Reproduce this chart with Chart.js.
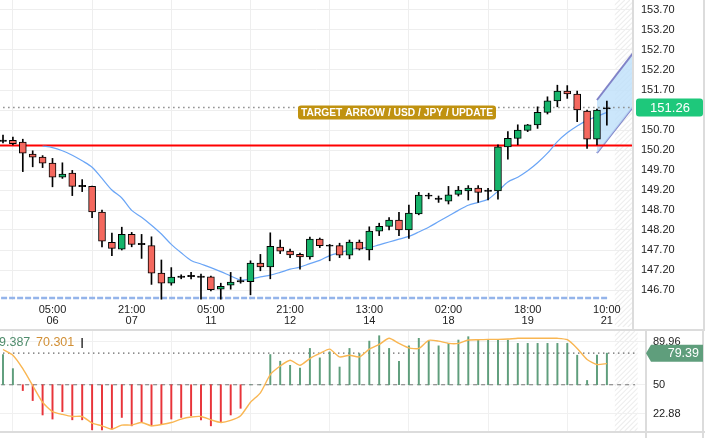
<!DOCTYPE html>
<html><head><meta charset="utf-8">
<script src="https://cdn.jsdelivr.net/npm/chart.js@4/dist/chart.umd.min.js"></script>
<style>
html,body{margin:0;padding:0;background:#fff;}
body{width:723px;height:438px;overflow:hidden;position:relative;}
#c1{position:absolute;left:0;top:0;}
#c2{position:absolute;left:0;top:329px;}
</style></head>
<body>
<canvas id="c1" width="723" height="329"></canvas>
<canvas id="c2" width="723" height="109"></canvas>
<script>
// ---------- DATA ----------
const xTickIndex = [5, 13, 21, 29, 37, 45, 53, 61];
const xTickTime  = ['05:00','21:00','05:00','21:00','13:00','02:00','18:00','10:00'];
const xTickDay   = ['06','07','11','12','14','18','19','21'];

const opens = [150.43,150.44,150.40,150.10,150.02,149.87,149.52,149.62,149.30,149.29,
  148.65,147.89,147.72,148.09,147.85,147.81,147.12,146.87,147.03,147.05,
  147.03,147.03,146.72,146.82,146.92,146.91,147.37,147.28,147.77,147.67,
  147.59,147.53,147.97,147.81,147.81,147.57,147.90,147.70,148.17,148.29,
  148.45,148.20,148.60,149.06,148.98,148.92,149.09,149.18,149.25,149.18,
  149.18,150.28,150.49,150.69,150.83,151.14,151.43,151.67,151.60,151.17,
  150.47,151.24];
const highs = [150.57,150.52,150.47,150.18,150.06,149.99,149.88,149.69,149.46,149.30,
  148.70,148.12,148.27,148.14,148.09,148.03,147.45,147.26,147.08,147.14,
  147.10,147.05,146.87,147.14,147.02,147.43,147.59,148.13,147.95,147.72,
  147.62,148.02,148.00,147.84,147.87,147.95,147.95,148.28,148.37,148.51,
  148.64,148.82,149.14,149.12,149.05,149.29,149.29,149.31,149.31,149.24,
  150.33,150.66,150.83,150.84,151.28,151.53,151.82,151.81,151.67,151.20,
  151.22,151.42];
const lows = [150.38,150.33,149.66,149.78,149.76,149.28,149.49,149.06,149.16,148.51,
  147.78,147.56,147.70,147.78,147.49,146.84,146.47,146.82,146.98,146.98,
  146.47,146.68,146.47,146.72,146.87,146.58,147.18,146.98,147.61,147.51,
  147.22,147.47,147.76,147.43,147.51,147.48,147.70,147.45,148.06,148.20,
  148.06,147.99,148.58,148.98,148.89,148.85,149.05,148.95,148.89,148.95,
  148.97,149.97,150.33,150.66,150.74,151.10,151.28,151.49,150.91,150.24,
  150.33,150.82];
const closes = [150.43,150.36,150.12,150.02,149.87,149.52,149.60,149.29,149.30,148.65,
  147.92,147.74,148.09,147.84,147.85,147.12,146.87,147.02,147.03,147.05,
  147.03,146.71,146.79,146.90,146.92,147.37,147.28,147.79,147.67,147.58,
  147.53,147.97,147.81,147.81,147.57,147.90,147.72,148.17,148.29,148.45,
  148.20,148.62,149.07,149.06,148.98,149.08,149.20,149.25,149.14,149.18,
  150.28,150.49,150.70,150.83,151.14,151.43,151.67,151.60,151.20,150.47,
  151.20,151.24];
const movingAvg = [null,null,null,null,150.30,150.26,150.18,150.07,149.93,149.77,
  149.49,149.20,149.00,148.69,148.52,148.32,148.10,147.84,147.63,147.44,
  147.35,147.26,147.16,147.05,146.95,146.97,147.03,147.07,147.14,147.22,
  147.27,147.36,147.44,147.56,147.63,147.70,147.75,147.76,147.83,147.90,
  147.97,148.04,148.15,148.27,148.41,148.55,148.69,148.82,148.89,148.97,
  149.17,149.40,149.52,149.68,149.88,150.12,150.41,150.63,150.80,150.94,
  151.04,151.14];
const priceTicks = [146.70,147.20,147.70,148.20,148.70,149.20,149.70,150.20,150.70,151.20,151.70,152.20,152.70,153.20,153.70];
const supportLevel = 150.31;
const lowLevel = 146.50;
const lastPrice = 151.26;
const targetText = 'TARGET ARROW / USD / JPY / UPDATE';
const channelX = [60, 64];
const channelUpper = [151.45, 152.74];
const channelLower = [150.125, 151.39];

const oscHist = [78.1,65.0,44.6,35.3,21.9,18.1,25.0,17.4,17.4,8.1,
  8.1,8.7,19.6,11.8,14.9,11.8,13.4,18.1,19.6,21.2,
  17.2,11.8,14.9,21.9,28.1,50,50,78.1,71.9,68.1,
  65.6,83.8,75.0,80.6,66.5,83.8,79.0,90.6,95.6,83.8,
  71.9,86.2,93.2,90.6,86.2,88.5,91.6,94.7,91.6,91.6,
  91.6,91.6,88.5,88.5,88.5,88.5,88.5,88.5,77.5,54.0,
  77.5,79.39];
const oscSignal = [82.8,77.5,65.0,49.3,33.7,25.0,22.4,20.5,20.5,14.4,
  11.8,8.7,12.5,12.5,14.9,11.8,13.0,14.9,18.1,20.0,
  20.5,17.4,14.9,16.8,21.2,33.7,42.5,59.4,67.4,72.8,
  68.1,74.4,79.1,83.1,75.9,77.5,75.9,83.1,87.5,93.2,
  88.5,84.3,83.8,91.3,90.6,88.5,88.5,91.6,91.9,92.2,
  92.2,92.5,93.2,93.2,93.2,93.2,93.2,91.9,83.8,73.5,
  68.8,69.7];
const oscTicks = [22.88, 50, 89.96];
const oscMid = 50;
const oscLast = 79.39;
const oscLegendA = '9.387';
const oscLegendB = '70.301';

// ---------- STYLE ----------
const FONT = '"Liberation Sans", Arial, sans-serif';
const UP = '#16b46b', DOWN = '#f4685e';
Chart.defaults.font.family = FONT;
Chart.defaults.animation = false;

function hatch(ctx, x0, x1, y0, y1) {
  ctx.save();
  ctx.beginPath(); ctx.rect(x0, y0, x1 - x0, y1 - y0); ctx.clip();
  ctx.strokeStyle = '#ededed'; ctx.lineWidth = 1.1;
  const h = y1 - y0;
  for (let s = x0 - h; s < x1 + 10; s += 5) {
    ctx.beginPath(); ctx.moveTo(s, y1); ctx.lineTo(s + h, y0); ctx.stroke();
  }
  ctx.restore();
}
function rrect(ctx, x, y, w, h, r) {
  ctx.beginPath();
  ctx.moveTo(x + r, y); ctx.lineTo(x + w - r, y); ctx.quadraticCurveTo(x + w, y, x + w, y + r);
  ctx.lineTo(x + w, y + h - r); ctx.quadraticCurveTo(x + w, y + h, x + w - r, y + h);
  ctx.lineTo(x + r, y + h); ctx.quadraticCurveTo(x, y + h, x, y + h - r);
  ctx.lineTo(x, y + r); ctx.quadraticCurveTo(x, y, x + r, y); ctx.closePath();
}
const noPadY = a => { a.paddingTop = 0; a.paddingBottom = 0; };
const noPadX = a => { a.paddingLeft = 0; a.paddingRight = 0; };

const idx = opens.map((_, i) => i);
const isDoji = i => Math.abs(opens[i] - closes[i]) < 0.005;
const bodyColor = i => isDoji(i) ? '#000' : (closes[i] >= opens[i] ? UP : DOWN);

// ---------- MAIN CHART ----------
const mainPlugin = {
  id: 'mainDeco',
  beforeDraw(chart) {
    const ctx = chart.ctx, ca = chart.chartArea, xs = chart.scales.x;
    ctx.save(); ctx.fillStyle = '#fff'; ctx.fillRect(0, 0, chart.width, chart.height); ctx.restore();
    hatch(ctx, xs.getPixelForValue(61.8), ca.right, 0, chart.height - 2);
  },
  afterDatasetsDraw(chart) {
    const ctx = chart.ctx, xs = chart.scales.x, ys = chart.scales.y;
    const py = ys.getPixelForValue(lastPrice);
    const lx = xs.getPixelForValue(29.8), rx = xs.getPixelForValue(49.8);
    ctx.save();
    ctx.fillStyle = '#c09210';
    rrect(ctx, lx, py - 2, rx - lx, 14, 3); ctx.fill();
    ctx.fillStyle = '#fff'; ctx.font = 'bold 11.5px ' + FONT;
    ctx.textBaseline = 'middle'; ctx.textAlign = 'center';
    ctx.fillText(targetText, (lx + rx) / 2, py + 5.5, rx - lx - 6);
    ctx.restore();
  },
  afterDraw(chart) {
    const ctx = chart.ctx, ca = chart.chartArea, ys = chart.scales.y;
    ctx.save();
    ctx.fillStyle = '#dcdcdc';
    ctx.fillRect(ca.right - 1, 0, 2, chart.height);
    ctx.fillRect(703, 0, 2, chart.height);
    const py = ys.getPixelForValue(lastPrice);
    ctx.fillStyle = '#1ec87b';
    rrect(ctx, 636, py - 9, 67, 18, 3); ctx.fill();
    ctx.fillStyle = '#fff'; ctx.font = '13px ' + FONT;
    ctx.textAlign = 'center'; ctx.textBaseline = 'middle';
    ctx.fillText(lastPrice.toFixed(2), 670, py + 0.5);
    ctx.restore();
  }
};

new Chart(document.getElementById('c1'), {
  type: 'bar',
  data: {
    datasets: [
      { type: 'bar', label: 'body', order: 1, grouped: false,
        data: idx.map(i => ({ x: i, y: isDoji(i) ? [closes[i] - 0.015, closes[i] + 0.015] : [opens[i], closes[i]] })),
        backgroundColor: idx.map(bodyColor), borderColor: '#000', borderWidth: 1,
        barThickness: 7, borderSkipped: false },
      { type: 'bar', label: 'wick', order: 2, grouped: false,
        data: idx.map(i => ({ x: i, y: [lows[i], highs[i]] })),
        backgroundColor: '#000', borderWidth: 0, barThickness: 1 },
      { type: 'line', label: 'ma', order: 3,
        data: idx.map(i => ({ x: i, y: movingAvg[i] })),
        borderColor: '#6aa5f6', borderWidth: 1.2, pointRadius: 0, tension: 0.3, spanGaps: false },
      { type: 'line', label: 'support', order: 4,
        data: [{ x: -1, y: supportLevel }, { x: 70, y: supportLevel }],
        borderColor: '#ff0000', borderWidth: 2, pointRadius: 0 },
      { type: 'line', label: 'last', order: 5,
        data: [{ x: -1, y: lastPrice }, { x: 70, y: lastPrice }],
        borderColor: '#8a8a8a', borderWidth: 1.5, borderDash: [1.5, 3.5], pointRadius: 0 },
      { type: 'line', label: 'low', order: 5,
        data: [{ x: -1, y: lowLevel }, { x: 61.2, y: lowLevel }],
        borderColor: '#94b4ea', borderWidth: 2.5, borderDash: [6, 2], pointRadius: 0 },
      { type: 'line', label: 'chanUp', order: 9,
        data: channelX.map((x, k) => ({ x, y: channelUpper[k] })),
        borderColor: '#8183c8', borderWidth: 2, pointRadius: 0,
        fill: '+1', backgroundColor: 'rgba(190,224,250,0.8)' },
      { type: 'line', label: 'chanLo', order: 9,
        data: channelX.map((x, k) => ({ x, y: channelLower[k] })),
        borderColor: '#8183c8', borderWidth: 2, pointRadius: 0, fill: false }
    ]
  },
  options: {
    responsive: false, animation: false,
    layout: { padding: { left: 0, right: 19, top: 0, bottom: 0 }, autoPadding: false },
    plugins: { legend: { display: false }, tooltip: { enabled: false } },
    scales: {
      x: {
        type: 'linear', min: -0.303, max: 63.64, offset: false,
        afterBuildTicks: a => { a.ticks = xTickIndex.map(v => ({ value: v })); },
        afterFit: a => { a.height = 29; noPadX(a); },
        ticks: { autoSkip: false, maxRotation: 0, padding: 5, color: '#222',
          font: { size: 11, lineHeight: 0.95 },
          callback: v => { const k = xTickIndex.indexOf(v); return k >= 0 ? [xTickTime[k], xTickDay[k]] : ''; } },
        grid: { color: '#eeeeee', drawTicks: false },
        border: { display: false }
      },
      y: {
        type: 'linear', position: 'right', min: 146.45, max: 153.95,
        afterBuildTicks: a => { a.ticks = priceTicks.map(v => ({ value: v })); },
        afterFit: a => { a.width = 71; noPadY(a); },
        ticks: { padding: 8, color: '#222', font: { size: 11 }, callback: v => Number(v).toFixed(2) },
        grid: { color: '#eeeeee', drawTicks: false },
        border: { display: false }
      }
    }
  },
  plugins: [mainPlugin]
});

// ---------- OSCILLATOR ----------
const oscPlugin = {
  id: 'oscDeco',
  beforeDraw(chart) {
    const ctx = chart.ctx, ca = chart.chartArea, xs = chart.scales.x;
    ctx.save(); ctx.fillStyle = '#fff'; ctx.fillRect(0, 0, chart.width, chart.height); ctx.restore();
    hatch(ctx, xs.getPixelForValue(61.8), xs.getPixelForValue(64.1), ca.top, ca.bottom);
  },
  afterDraw(chart) {
    const ctx = chart.ctx, ca = chart.chartArea, ys = chart.scales.y;
    ctx.save();
    ctx.fillStyle = '#dcdcdc';
    ctx.fillRect(0, 0, 705, 2);
    ctx.fillRect(0, ca.bottom, 705, 2);
    ctx.fillRect(ca.right - 1, 0, 2, chart.height);
    ctx.fillRect(702, 0, 2, chart.height);
    ctx.font = '12.5px ' + FONT; ctx.textBaseline = 'middle'; ctx.textAlign = 'left';
    ctx.fillStyle = '#4f8c6c'; ctx.fillText(oscLegendA, -1, 14);
    ctx.fillStyle = '#d18f35'; ctx.fillText(oscLegendB, 36, 14);
    ctx.fillStyle = '#000'; ctx.fillRect(81.5, 9, 1.2, 10);
    const py = ys.getPixelForValue(oscLast);
    ctx.fillStyle = '#5f9e7c';
    ctx.beginPath();
    ctx.moveTo(646, py); ctx.lineTo(651, py - 8.5); ctx.lineTo(703, py - 8.5);
    ctx.lineTo(703, py + 8.5); ctx.lineTo(651, py + 8.5); ctx.closePath(); ctx.fill();
    ctx.fillStyle = '#fff'; ctx.font = '12.5px ' + FONT; ctx.textAlign = 'right';
    ctx.fillText(oscLast.toFixed(2), 699, py + 0.5);
    ctx.restore();
  }
};

new Chart(document.getElementById('c2'), {
  type: 'bar',
  data: {
    datasets: [
      { type: 'line', label: 'signal', order: 1,
        data: idx.map(i => ({ x: i, y: oscSignal[i] })),
        borderColor: '#f9b652', borderWidth: 1.4, pointRadius: 0, tension: 0.2 },
      { type: 'bar', label: 'hist', order: 2, grouped: false,
        data: idx.map(i => ({ x: i, y: [oscMid, oscHist[i]] })),
        backgroundColor: idx.map(i => oscHist[i] >= oscMid ? '#5f9e7c' : '#e8343a'),
        borderWidth: 0, barThickness: 1.3 },
      { type: 'line', label: 'mid', order: 3,
        data: [{ x: -1, y: oscMid }, { x: 63.84, y: oscMid }],
        borderColor: '#777', borderWidth: 1, borderDash: [4, 4], pointRadius: 0 },
      { type: 'line', label: 'lastLine', order: 3,
        data: [{ x: -1, y: oscLast }, { x: 63.84, y: oscLast }],
        borderColor: '#555', borderWidth: 1.3, borderDash: [1.3, 3.7], pointRadius: 0 }
    ]
  },
  options: {
    responsive: false, animation: false,
    layout: { padding: { left: 0, right: 20, top: 2, bottom: 7 }, autoPadding: false },
    plugins: { legend: { display: false }, tooltip: { enabled: false } },
    scales: {
      x: {
        type: 'linear', min: -0.303, max: 64.95, offset: false,
        afterBuildTicks: a => { a.ticks = xTickIndex.map(v => ({ value: v })); },
        afterFit: a => { a.height = 0; noPadX(a); },
        ticks: { display: false },
        grid: { color: '#f0f0f0', drawTicks: false },
        border: { display: false }
      },
      y: {
        type: 'linear', position: 'right', min: 7, max: 100,
        afterBuildTicks: a => { a.ticks = oscTicks.map(v => ({ value: v })); },
        afterFit: a => { a.width = 57; noPadY(a); },
        ticks: { padding: 7, color: '#222', font: { size: 11 }, callback: v => String(v) },
        grid: { color: '#f0f0f0', drawTicks: false },
        border: { display: false }
      }
    }
  },
  plugins: [oscPlugin]
});
</script>
</body></html>
